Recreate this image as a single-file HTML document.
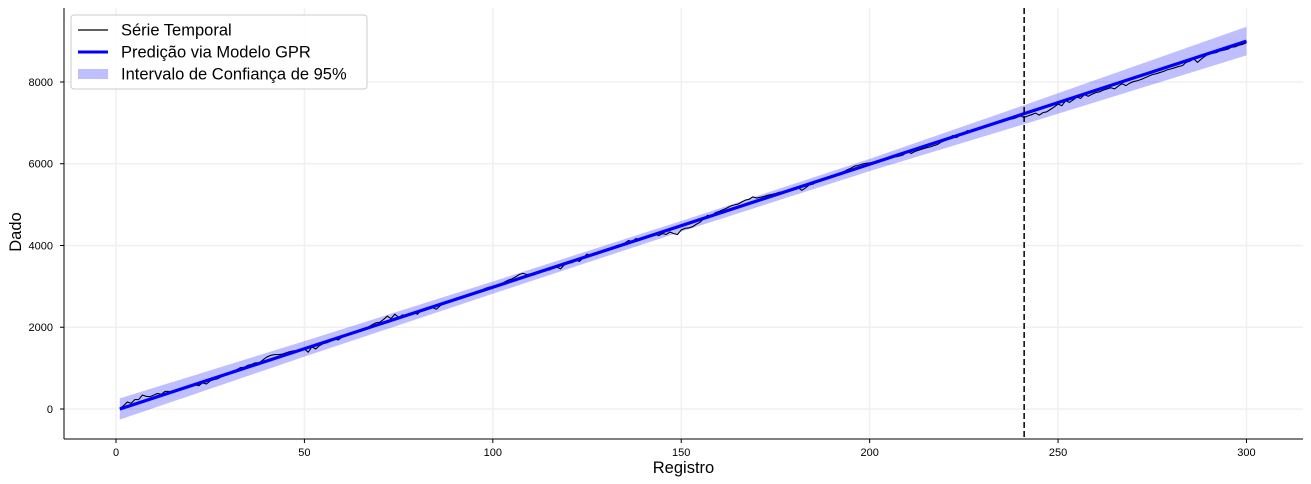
<!DOCTYPE html>
<html><head><meta charset="utf-8"><style>
body{margin:0;background:#fff;}
svg{display:block;font-family:"Liberation Sans","DejaVu Sans",sans-serif;}
</style></head><body>
<svg id="chart" width="1311" height="484"></svg>
<script>
const xTicks=[0,50,100,150,200,250,300];
const yTicks=[0,2000,4000,6000,8000];
const seriesValues=[10,80,170,140,230,230,340,310,300,340,380,360,430,430,400,460,480,510,520,570,590,570,640,610,690,720,740,790,860,870,930,960,1010,1020,1070,1090,1130,1130,1200,1270,1310,1330,1330,1340,1370,1400,1420,1430,1460,1470,1390,1520,1470,1550,1600,1620,1660,1710,1690,1760,1800,1820,1850,1880,1900,1960,2010,2060,2110,2120,2190,2270,2210,2320,2240,2300,2290,2320,2360,2320,2420,2420,2450,2480,2440,2520,2600,2600,2640,2680,2720,2740,2790,2820,2830,2880,2900,2950,2980,3000,3010,3040,3100,3150,3180,3230,3290,3320,3290,3300,3280,3350,3390,3420,3400,3450,3470,3430,3530,3570,3580,3640,3610,3700,3790,3750,3800,3830,3860,3900,3930,3960,4000,4020,4060,4120,4100,4170,4140,4200,4230,4260,4280,4240,4290,4270,4330,4290,4270,4380,4420,4430,4460,4520,4570,4660,4740,4710,4800,4830,4870,4910,4960,4990,5010,5060,5110,5130,5190,5160,5180,5200,5230,5250,5270,5300,5310,5330,5350,5400,5420,5350,5410,5480,5500,5580,5610,5620,5660,5700,5740,5760,5800,5850,5890,5940,5960,5990,6010,6020,6040,6060,6100,6110,6130,6160,6170,6190,6220,6310,6250,6300,6330,6360,6390,6410,6440,6470,6530,6570,6610,6690,6640,6700,6760,6810,6790,6840,6880,6900,6930,6960,6980,7010,7050,7070,7090,7100,7130,7170,7130,7170,7200,7240,7190,7250,7270,7330,7390,7460,7420,7540,7500,7560,7630,7600,7690,7650,7700,7740,7760,7800,7830,7860,7830,7900,7960,7910,7970,8010,8030,8060,8100,8140,8180,8200,8230,8260,8300,8320,8350,8380,8400,8480,8510,8570,8480,8560,8630,8690,8700,8720,8760,8780,8800,8850,8860,8900,8920,8960];
const predX=[1,300];
const predY=[0,9000];
const bandX=[1,50,100,150,200,240,300];
const bandPred=[0,1470,2970,4470,5970,7170,9000];
const bandHalf=[260,190,150,130,150,230,350];
const splitX=241;

const L=64,R=1303,T=8,B=439;
const xMin=-13.8,xMax=315,yMin=-734,yMax=9810;
const sx=v=>L+(v-xMin)/(xMax-xMin)*(R-L);
const sy=v=>B-(v-yMin)/(yMax-yMin)*(B-T);
const svg=document.getElementById('chart');
const NS='http://www.w3.org/2000/svg';
function mk(t,a,p){const e=document.createElementNS(NS,t);for(const k in a)e.setAttribute(k,a[k]);(p||svg).appendChild(e);return e;}

xTicks.forEach(v=>{
  const g=mk('line',{x1:sx(v),x2:sx(v),y1:T,y2:B,stroke:'#f0f0f0','stroke-width':1.5});
  
  
  const tk=mk('line',{x1:sx(v),x2:sx(v),y1:B,y2:B+4,stroke:'#000'});
  
  
  const t=mk('text',{x:sx(v),y:B+17,'text-anchor':'middle','font-size':11});
  t.textContent=v;
  
  
});
yTicks.forEach(v=>{
  const g=mk('line',{x1:L,x2:R,y1:sy(v),y2:sy(v),stroke:'#f0f0f0','stroke-width':1.5});
  
  
  const tk=mk('line',{x1:L-4,x2:L,y1:sy(v),y2:sy(v),stroke:'#000'});
  
  
  const t=mk('text',{x:L-11,y:sy(v)+4,'text-anchor':'end','font-size':11});
  t.textContent=v;
  
  
});

let up=bandX.map((x,i)=>sx(x)+','+sy(bandPred[i]+bandHalf[i]));
let dn=bandX.map((x,i)=>sx(x)+','+sy(bandPred[i]-bandHalf[i])).reverse();
const band=mk('polygon',{points:up.concat(dn).join(' '),fill:'#0000ff',opacity:0.25});



const ser=mk('polyline',{points:seriesValues.map((v,i)=>sx(i+1)+','+sy(v)).join(' '),fill:'none',stroke:'#000','stroke-width':1.1});



const pred=mk('polyline',{points:predX.map((x,i)=>sx(x)+','+sy(predY[i])).join(' '),fill:'none',stroke:'#0000ff','stroke-width':3.2});



const sp=mk('line',{x1:sx(splitX),x2:sx(splitX),y1:T,y2:B,stroke:'#000','stroke-width':1.5,'stroke-dasharray':'6,3'});



const ax1=mk('line',{x1:L,x2:L,y1:T,y2:B,stroke:'#000'});


const ax2=mk('line',{x1:L,x2:R,y1:B,y2:B,stroke:'#000'});



const xl=mk('text',{x:(L+R)/2,y:473,'text-anchor':'middle','font-size':16.5});
xl.textContent='Registro';


const yl=mk('text',{x:21,y:232,'text-anchor':'middle','font-size':16.5,transform:'rotate(-90 21 232)'});
yl.textContent='Dado';



const lg=mk('g',{});


mk('rect',{x:71,y:15,width:296,height:74,rx:3,fill:'#fff',stroke:'#ccc','fill-opacity':0.85},lg);
const items=[['Série Temporal','line','#000',1.2],['Predição via Modelo GPR','line','#0000ff',3],['Intervalo de Confiança de 95%','patch','#0000ff',0]];
items.forEach((it,i)=>{
  const y=30+i*22;
  const g=mk('g',{},lg);
  
  
  if(it[1]==='line')mk('line',{x1:78,x2:108,y1:y,y2:y,stroke:it[2],'stroke-width':it[3]},g);
  else mk('rect',{x:78,y:y-5,width:30,height:10,fill:it[2],opacity:0.25},g);
  const t=mk('text',{x:121,y:y+5.5,'font-size':16.5},g);
  t.textContent=it[0];
});
</script>
</body></html>
